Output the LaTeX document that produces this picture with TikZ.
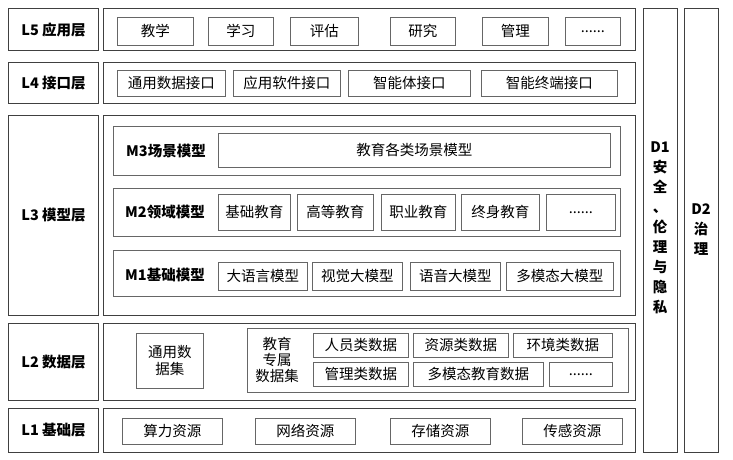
\documentclass[tikz,border=0pt]{standalone}
\usepackage{fontspec}
\setmainfont{Noto Sans CJK SC}
\begin{document}
\begin{tikzpicture}[x=1pt,y=-1pt,
		layer/.style={draw=black!75,line width=1pt,anchor=north west,inner sep=0pt},
		tag/.style={layer,font=\fontsize{14.5}{17}\selectfont\bfseries},
		cell/.style={draw=black!60,line width=0.7pt,anchor=north west,inner sep=0pt,font=\fontsize{14.5}{17}\selectfont},
		group/.style={draw=black!60,line width=0.7pt,anchor=north west,inner sep=0pt},
		title/.style={font=\fontsize{14.5}{17}\selectfont\bfseries}]
	\useasboundingbox (0,0) rectangle (733,460);
	%
	% Layer labels on the left.
	\node[tag,minimum width=90,minimum height=42] (l5) at (8,8) {L5 应用层};
	\node[tag,minimum width=90,minimum height=41] (l4) at (8,62) {L4 接口层};
	\node[tag,minimum width=90,minimum height=200] (l3) at (8,115) {L3 模型层};
	\node[tag,minimum width=90,minimum height=77] (l2) at (8,323) {L2 数据层};
	\node[tag,minimum width=90,minimum height=44] (l1) at (8,408) {L1 基础层};
	%
	% Layer bodies.
	\node[layer,minimum width=532,minimum height=42] (b5) at (103,8) {};
	\node[layer,minimum width=532,minimum height=41] (b4) at (103,62) {};
	\node[layer,minimum width=532,minimum height=200] (b3) at (103,115) {};
	\node[layer,minimum width=532,minimum height=77] (b2) at (103,323) {};
	\node[layer,minimum width=532,minimum height=44] (b1) at (103,408) {};
	%
	% Side columns.
	\node[layer,minimum width=34,minimum height=444] (d1) at (643,8) {};
	\node[layer,minimum width=34,minimum height=444] (d2) at (684,8) {};
	\node[align=center,font=\fontsize{14.5}{20}\selectfont\bfseries] (d1t) at (660,228)
		{D1\\安\\全\\、\\伦\\理\\与\\隐\\私};
	\node[align=center,font=\fontsize{14.5}{20}\selectfont\bfseries] (d2t) at (701,230)
		{D2\\治\\理};
	%
	% L5 application layer.
	\node[cell,minimum width=76,minimum height=28] (jx) at (117,17) {教学};
	\node[cell,minimum width=65,minimum height=28] (xx) at (208,17) {学习};
	\node[cell,minimum width=68,minimum height=28] (pg) at (290,17) {评估};
	\node[cell,minimum width=65,minimum height=28] (yj) at (390,17) {研究};
	\node[cell,minimum width=66,minimum height=28] (gl) at (482,17) {管理};
	\node[cell,minimum width=55,minimum height=28] (e5) at (565,17) {......};
	%
	% L4 interface layer.
	\node[cell,minimum width=108,minimum height=26] (sjjk) at (117,70) {通用数据接口};
	\node[cell,minimum width=107,minimum height=26] (rjjk) at (233,70) {应用软件接口};
	\node[cell,minimum width=122,minimum height=26] (ztjk) at (348,70) {智能体接口};
	\node[cell,minimum width=136,minimum height=26] (zdjk) at (481,70) {智能终端接口};
	%
	% L3 model layer.
	\node[group,minimum width=507,minimum height=49] (m3) at (113,126) {};
	\node[title] (m3t) at (166,151) {M3场景模型};
	\node[cell,minimum width=392,minimum height=34] (cj) at (218,133) {教育各类场景模型};
	\node[group,minimum width=507,minimum height=48] (m2) at (113,188) {};
	\node[title] (m2t) at (165,212) {M2领域模型};
	\node[cell,minimum width=72,minimum height=36] (jc) at (218,194) {基础教育};
	\node[cell,minimum width=76,minimum height=36] (gd) at (297,194) {高等教育};
	\node[cell,minimum width=74,minimum height=36] (zy) at (381,194) {职业教育};
	\node[cell,minimum width=78,minimum height=36] (zs) at (461,194) {终身教育};
	\node[cell,minimum width=69,minimum height=36] (e2) at (546,194) {......};
	\node[group,minimum width=507,minimum height=46] (m1) at (113,250) {};
	\node[title] (m1t) at (165,275) {M1基础模型};
	\node[cell,minimum width=89,minimum height=28] (dyy) at (218,262) {大语言模型};
	\node[cell,minimum width=90,minimum height=28] (sj) at (312,262) {视觉大模型};
	\node[cell,minimum width=90,minimum height=28] (yy) at (410,262) {语音大模型};
	\node[cell,minimum width=107,minimum height=28] (dmt) at (506,262) {多模态大模型};
	%
	% L2 data layer.
	\node[cell,minimum width=67,minimum height=55,align=center] (tysj) at (136,333) {通用数\\据集};
	\node[group,minimum width=381,minimum height=64] (zs2) at (247,328) {};
	\node[align=center,font=\fontsize{14.5}{16}\selectfont] (zst) at (277,360) {教育\\专属\\数据集};
	\node[cell,minimum width=95,minimum height=24] (ry) at (313,333) {人员类数据};
	\node[cell,minimum width=95,minimum height=24] (zy2) at (413,333) {资源类数据};
	\node[cell,minimum width=99,minimum height=24] (hj) at (513,333) {环境类数据};
	\node[cell,minimum width=95,minimum height=24] (gl2) at (313,362) {管理类数据};
	\node[cell,minimum width=130,minimum height=24] (dmt2) at (413,362) {多模态教育数据};
	\node[cell,minimum width=63,minimum height=24] (e3) at (549,362) {......};
	%
	% L1 infrastructure layer.
	\node[cell,minimum width=100,minimum height=26] (sl) at (122,418) {算力资源};
	\node[cell,minimum width=100,minimum height=26] (wl) at (255,418) {网络资源};
	\node[cell,minimum width=100,minimum height=26] (cc) at (390,418) {存储资源};
	\node[cell,minimum width=100,minimum height=26] (cg) at (522,418) {传感资源};
\end{tikzpicture}
\end{document}
